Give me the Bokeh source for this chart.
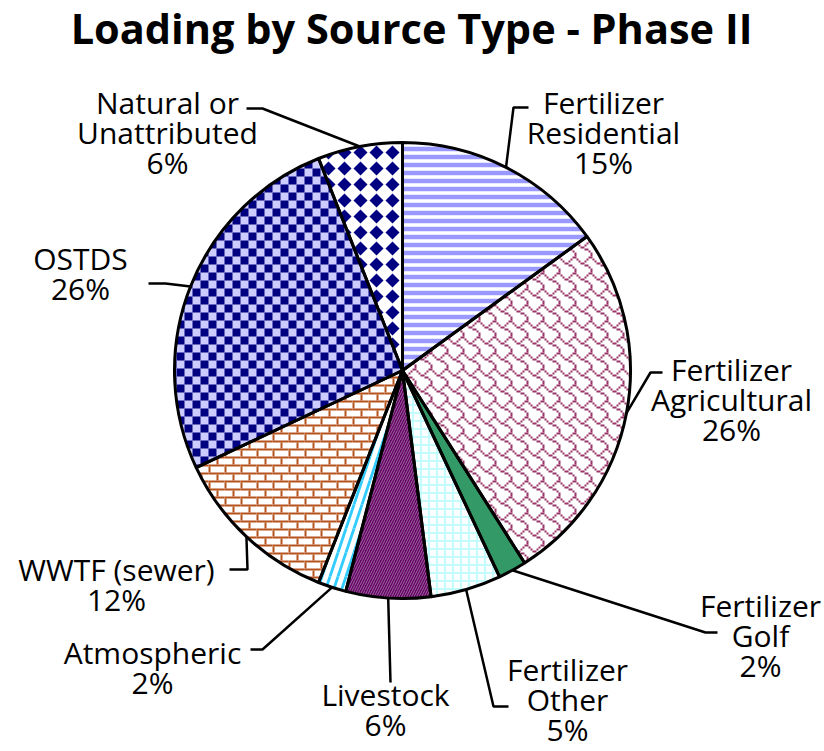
import math
from bokeh.plotting import figure
from bokeh.models import ColumnDataSource, Range1d
from bokeh.core.properties import value
from bokeh.embed import file_html
from bokeh.resources import INLINE

# ---------------- data ----------------
TITLE = "Loading by Source Type - Phase II"
categories = ["Fertilizer Residential", "Fertilizer Agricultural", "Fertilizer Golf",
              "Fertilizer Other", "Livestock", "Atmospheric", "WWTF (sewer)",
              "OSTDS", "Natural or Unattributed"]
label_lines = [["Fertilizer", "Residential"], ["Fertilizer", "Agricultural"], ["Fertilizer", "Golf"],
               ["Fertilizer", "Other"], ["Livestock"], ["Atmospheric"], ["WWTF (sewer)"],
               ["OSTDS"], ["Natural or", "Unattributed"]]
percent = [15, 26, 2, 5, 6, 2, 12, 26, 6]

# ---------------- styles ----------------
BRICK = "#b5521c"
NAVY = "#000080"
fill_bg = ["white", "white", "#339966", "white", "#660066", "white", "white", "#ccccff", "white"]
# built-in hatches: (pattern, color, scale, weight)
builtin_hatch = [("-", "#9999ff", 8, 4.5), None, None, ("+", "#c4fbfb", 8, 2.2),
                 ("/", "#9a6a9a", 5, 1.0), None, None, None, None]

def bitmap_polys(rows, s=2):
    """8x8 bitmap -> rectangles (tile coords), merged in runs."""
    rects, prev = [], {}
    for y, r in enumerate(list(rows) + [0]):
        runs, x = set(), 0
        while x < 8:
            if r & (0x80 >> x):
                x0 = x
                while x < 8 and (r & (0x80 >> x)):
                    x += 1
                runs.add((x0, x))
            else:
                x += 1
        for run in list(prev):
            if run not in runs:
                y0 = prev.pop(run)
                rects.append((run[0] * s, y0 * s, (run[1] - run[0]) * s, (y - y0) * s))
        for run in runs:
            if run not in prev:
                prev[run] = y
    return [[(x, y), (x + w, y), (x + w, y + h), (x, y + h)] for x, y, w, h in rects]

# tile patterns: (polygons in tile coords, tile w, tile h, colour)
tile_pattern = [
    None,
    (bitmap_polys([0x03, 0x84, 0x48, 0x30, 0x0c, 0x02, 0x01, 0x01]), 16, 16, "#993366"),
    None,
    None,
    None,
    ([[(0, 24), (3, 24), (11, 0), (8, 0)]], 8, 24, "#33ccff"),
    (bitmap_polys([0xff, 0x80, 0x80, 0x80, 0xff, 0x08, 0x08, 0x08]), 16, 16, BRICK),
    (bitmap_polys([0xf0, 0xf0, 0xf0, 0xf0, 0x0f, 0x0f, 0x0f, 0x0f]), 16, 16, NAVY),
    ([[(8, 1), (15, 8), (8, 15), (1, 8)]], 16, 16, NAVY),
]

# ---------------- layout (page pixel coords, y down) ----------------
W, H = 824, 751
def pg(px, py):
    return px, H - py

PCX, PCY = 402, 370          # pie centre on the page
R = 228
FONT = "Open Sans"
LABEL_SIZE = 30
TITLE_SIZE = 41.5
LINE_STEP = 30
BASE_FIX = 0.41              # renderer puts the alphabetic baseline this many em lower
label_pos = [(603, 134), (731, 401), (760, 637), (567, 701), (385, 711),
             (152, 669), (116, 586), (80, 275), (167, 134)]
leader_elbow = [(513, 107), (650, 372), (705, 632), (493, 706), (390, 682),
                (262, 649), (247, 569), (165, 283), (262, 108)]
leader_end = [(528, 107), (662, 372), (717, 632), (508, 706), (390, 682),
              (250, 649), (229, 569), (148, 283), (246, 108)]

def wedge_poly(f0, f1):
    pts = [(PCX, PCY)]
    steps = max(6, int(round((f1 - f0) * 200)))
    for k in range(steps + 1):
        t = 2 * math.pi * (f0 + (f1 - f0) * k / steps)
        pts.append((PCX + R * math.sin(t), PCY - R * math.cos(t)))
    return pts

def clip(subject, cp):
    area = sum(a[0] * b[1] - b[0] * a[1] for a, b in zip(cp, cp[1:] + cp[:1]))
    sg = 1 if area > 0 else -1
    def inside(pt, a, b):
        return sg * ((b[0] - a[0]) * (pt[1] - a[1]) - (b[1] - a[1]) * (pt[0] - a[0])) >= 0
    def inter(p1, p2, a, b):
        x1, y1 = p1; x2, y2 = p2; x3, y3 = a; x4, y4 = b
        den = (x1 - x2) * (y3 - y4) - (y1 - y2) * (x3 - x4)
        if den == 0:
            return p2
        t = ((x1 - x3) * (y3 - y4) - (y1 - y3) * (x3 - x4)) / den
        return (x1 + t * (x2 - x1), y1 + t * (y2 - y1))
    out = subject
    for a, b in zip(cp, cp[1:] + cp[:1]):
        if not out:
            break
        inp, out = out, []
        s = inp[-1]
        for e in inp:
            if inside(e, a, b):
                if not inside(s, a, b):
                    out.append(inter(s, e, a, b))
                out.append(e)
            elif inside(s, a, b):
                out.append(inter(s, e, a, b))
            s = e
    return out

p = figure(width=W, height=H, x_range=Range1d(0, W), y_range=Range1d(0, H),
           output_backend="svg", toolbar_location=None, min_border=0,
           x_axis_type=None, y_axis_type=None, outline_line_color=None,
           background_fill_color="white", border_fill_color="white")
p.grid.visible = False

CX, CY = pg(PCX, PCY)
total = sum(percent)
cum = 0
xs, ys = [], []
angles = []
for i, v in enumerate(percent):
    f0, f1 = cum / total, (cum + v) / total
    cum += v
    a0 = math.pi / 2 - 2 * math.pi * f0
    a1 = math.pi / 2 - 2 * math.pi * f1
    angles.append((a0, a1))
    kw = dict(x=CX, y=CY, radius=R, start_angle=a0, end_angle=a1, direction="clock",
              fill_color=fill_bg[i], line_color=None)
    h = builtin_hatch[i]
    if h is not None:
        kw.update(hatch_pattern=h[0], hatch_color=h[1], hatch_scale=h[2], hatch_weight=h[3])
    p.wedge(**kw)

    tp = tile_pattern[i]
    if tp is not None:
        polys, tw, th, col = tp
        wp = wedge_poly(f0, f1)
        minx = min(q[0] for q in wp); maxx = max(q[0] for q in wp)
        miny = min(q[1] for q in wp); maxy = max(q[1] for q in wp)
        pxs, pys = [], []
        for ti in range(int(math.floor(minx / tw)) - 1, int(math.ceil(maxx / tw)) + 1):
            for tj in range(int(math.floor(miny / th)) - 1, int(math.ceil(maxy / th)) + 1):
                for poly in polys:
                    pts = [(x + ti * tw, y + tj * th) for x, y in poly]
                    if max(q[0] for q in pts) < minx or min(q[0] for q in pts) > maxx:
                        continue
                    if max(q[1] for q in pts) < miny or min(q[1] for q in pts) > maxy:
                        continue
                    c = clip(pts, wp)
                    if len(c) >= 3:
                        pxs.append([q[0] for q in c])
                        pys.append([H - q[1] for q in c])
        p.patches(xs=pxs, ys=pys, fill_color=col, line_color=None)

    mid = (a0 + a1) / 2
    sx, sy = CX + R * math.cos(mid), CY + R * math.sin(mid)
    ex, ey = pg(*leader_elbow[i])
    fx, fy = pg(*leader_end[i])
    xs.append([sx, ex, fx])
    ys.append([sy, ey, fy])

# slice outlines on top of the fills
p.wedge(x=CX, y=CY, radius=R, start_angle=[a[0] for a in angles],
        end_angle=[a[1] for a in angles], direction="clock",
        fill_color=None, line_color="black", line_width=3)

p.multi_line(xs=xs, ys=ys, line_color="black", line_width=2.5)

tx, ty, tt = [], [], []
for i, lines in enumerate(label_lines):
    allines = lines + [f"{percent[i]}%"]
    n = len(allines)
    cx, cy = label_pos[i]
    for k, t in enumerate(allines):
        yc = cy + (k - (n - 1) / 2) * LINE_STEP + 0.357 * LABEL_SIZE - BASE_FIX * LABEL_SIZE
        X, Y = pg(cx, yc)
        tx.append(X); ty.append(Y); tt.append(t)
src = ColumnDataSource(dict(x=tx, y=ty, text=tt))
p.text(x="x", y="y", text="text", source=src, text_font=value(FONT),
       text_font_size=value(f"{LABEL_SIZE}px"), text_align="center",
       text_baseline="alphabetic", text_color="black")

hx, hy = pg(411, 45 - BASE_FIX * TITLE_SIZE)
p.text(x=[hx], y=[hy], text=[TITLE], text_font=value(FONT),
       text_font_size=value(f"{TITLE_SIZE}px"), text_font_style="bold", text_align="center",
       text_baseline="alphabetic", text_color="black")

open("out.html", "w").write(file_html(p, INLINE))
